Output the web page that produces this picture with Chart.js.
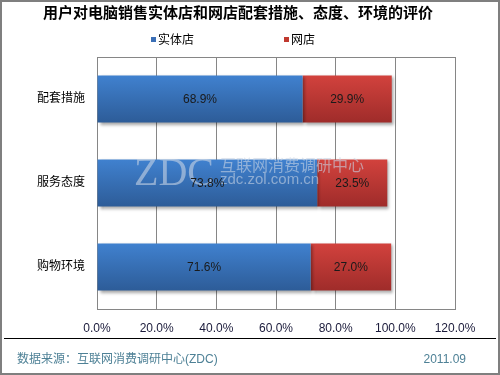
<!DOCTYPE html>
<html>
<head>
<meta charset="utf-8">
<script src="https://cdn.jsdelivr.net/npm/chart.js@4.4.0/dist/chart.umd.min.js"></script>
<style>
html, body { margin: 0; padding: 0; background: #fff; }
</style>
</head>
<body>
<canvas id="chart" width="500" height="375"></canvas>
<script>
const categories = ["配套措施", "服务态度", "购物环境"];
const seriesNames = ["实体店", "网店"];
const storeValues = [68.9, 73.8, 71.6];
const onlineValues = [29.9, 23.5, 27.0];
const xMin = 0, xMax = 120, xStep = 20;

const titleText = "用户对电脑销售实体店和网店配套措施、态度、环境的评价";
const sourceText = "数据来源：互联网消费调研中心(ZDC)";
const dateText = "2011.09";

const FONT = '"Liberation Sans", "Noto Sans CJK SC", sans-serif';
const barPct = 0.56;

// vertical gradient for each bar, worked out from the category scale
function barFill(topColor, bottomColor) {
    return function (c) {
        const chart = c.chart;
        const y = chart.scales && chart.scales.y;
        if (c.type !== 'data' || !y || !chart.chartArea) return topColor;
        const mid = y.getPixelForValue(c.dataIndex);
        const half = (y.bottom - y.top) / categories.length * barPct / 2;
        const g = chart.ctx.createLinearGradient(0, mid - half, 0, mid + half);
        g.addColorStop(0, topColor);
        g.addColorStop(1, bottomColor);
        return g;
    };
}

const legendColors = ["#3b6fb6", "#c0392f"];

const decor = {
    id: 'decor',
    beforeDatasetsDraw(chart) {
        const ctx = chart.ctx;
        ctx.save();
        ctx.shadowColor = 'rgba(0,0,0,0.35)';
        ctx.shadowBlur = 3;
        ctx.shadowOffsetX = 2;
        ctx.shadowOffsetY = 2;
    },
    afterDatasetsDraw(chart) {
        const ctx = chart.ctx;
        ctx.restore();
        const a = chart.chartArea;

        // top edge of plot
        ctx.save();
        ctx.strokeStyle = '#868686';
        ctx.lineWidth = 1;
        ctx.beginPath();
        ctx.moveTo(a.left, a.top + 0.5);
        ctx.lineTo(a.right, a.top + 0.5);
        ctx.stroke();

        // watermark
        ctx.fillStyle = 'rgba(200,212,228,0.6)';
        ctx.textBaseline = 'alphabetic';
        ctx.textAlign = 'left';
        ctx.font = '40px "Liberation Serif", serif';
        ctx.fillText("ZDC", 134, 185);
        ctx.font = '16px "Noto Sans CJK SC", sans-serif';
        ctx.textBaseline = 'middle';
        ctx.fillText("互联网消费调研中心", 220, 165);
        ctx.font = '15px "Liberation Sans", sans-serif';
        ctx.fillText("zdc.zol.com.cn", 220, 180);

        // value labels
        ctx.fillStyle = '#1a1a1a';
        ctx.font = '12px ' + FONT;
        ctx.textAlign = 'center';
        ctx.textBaseline = 'middle';
        chart.data.datasets.forEach((ds, i) => {
            chart.getDatasetMeta(i).data.forEach((bar, j) => {
                const p = bar.getProps(['x', 'y', 'base'], true);
                ctx.fillText(ds.data[j].toFixed(1) + '%', (p.x + p.base) / 2, p.y + 1);
            });
        });
        ctx.restore();
    },
    afterDraw(chart) {
        const ctx = chart.ctx;
        ctx.save();
        // legend
        ctx.font = '12px ' + FONT;
        ctx.textBaseline = 'middle';
        ctx.textAlign = 'left';
        const lx = [151, 284];
        chart.data.datasets.forEach((ds, i) => {
            ctx.fillStyle = legendColors[i];
            ctx.fillRect(lx[i], 37, 5, 5);
            ctx.fillStyle = '#000';
            ctx.fillText(ds.label, lx[i] + 7, 41);
        });

        // footer
        ctx.strokeStyle = '#000';
        ctx.lineWidth = 1;
        ctx.beginPath();
        ctx.moveTo(4, 338.5);
        ctx.lineTo(496, 338.5);
        ctx.stroke();
        ctx.fillStyle = '#4e8196';
        ctx.fillText(sourceText, 17, 360);
        ctx.textAlign = 'right';
        ctx.fillText(dateText, 466, 360);

        // outer frame
        ctx.strokeStyle = '#7f7f7f';
        ctx.lineWidth = 2;
        ctx.strokeRect(1, 1, 498, 373);
        ctx.restore();
    }
};

new Chart(document.getElementById('chart'), {
    type: 'bar',
    data: {
        labels: categories,
        datasets: [
            {
                label: seriesNames[0],
                data: storeValues,
                backgroundColor: barFill('#4081cf', '#2d5c98'),
                barPercentage: 1,
                categoryPercentage: barPct
            },
            {
                label: seriesNames[1],
                data: onlineValues,
                backgroundColor: barFill('#d2423d', '#9f2c2a'),
                barPercentage: 1,
                categoryPercentage: barPct
            }
        ]
    },
    plugins: [decor],
    options: {
        indexAxis: 'y',
        responsive: false,
        animation: false,
        layout: { padding: { left: 21, right: 45, top: 0, bottom: 0 } },
        plugins: {
            legend: { display: false },
            tooltip: { enabled: false },
            title: {
                display: true,
                text: titleText,
                color: '#000',
                font: { family: FONT, size: 15, weight: 'bold' },
                padding: { top: 5, bottom: 34 }
            }
        },
        scales: {
            x: {
                stacked: true,
                min: xMin,
                max: xMax,
                ticks: {
                    stepSize: xStep,
                    padding: 12,
                    color: '#1a1a3a',
                    font: { family: FONT, size: 12 },
                    maxRotation: 0,
                    callback: v => v.toFixed(1) + '%'
                },
                grid: { color: '#868686', drawTicks: false },
                border: { color: '#868686' },
                afterFit(s) { s.height = 66; s.paddingLeft = 0; s.paddingRight = 0; }
            },
            y: {
                stacked: true,
                ticks: {
                    padding: 12,
                    color: '#000',
                    font: { family: FONT, size: 12 }
                },
                grid: { display: false, drawTicks: false },
                border: { color: '#868686' },
                afterFit(s) { s.width = 76; }
            }
        }
    }
});
</script>
</body>
</html>
